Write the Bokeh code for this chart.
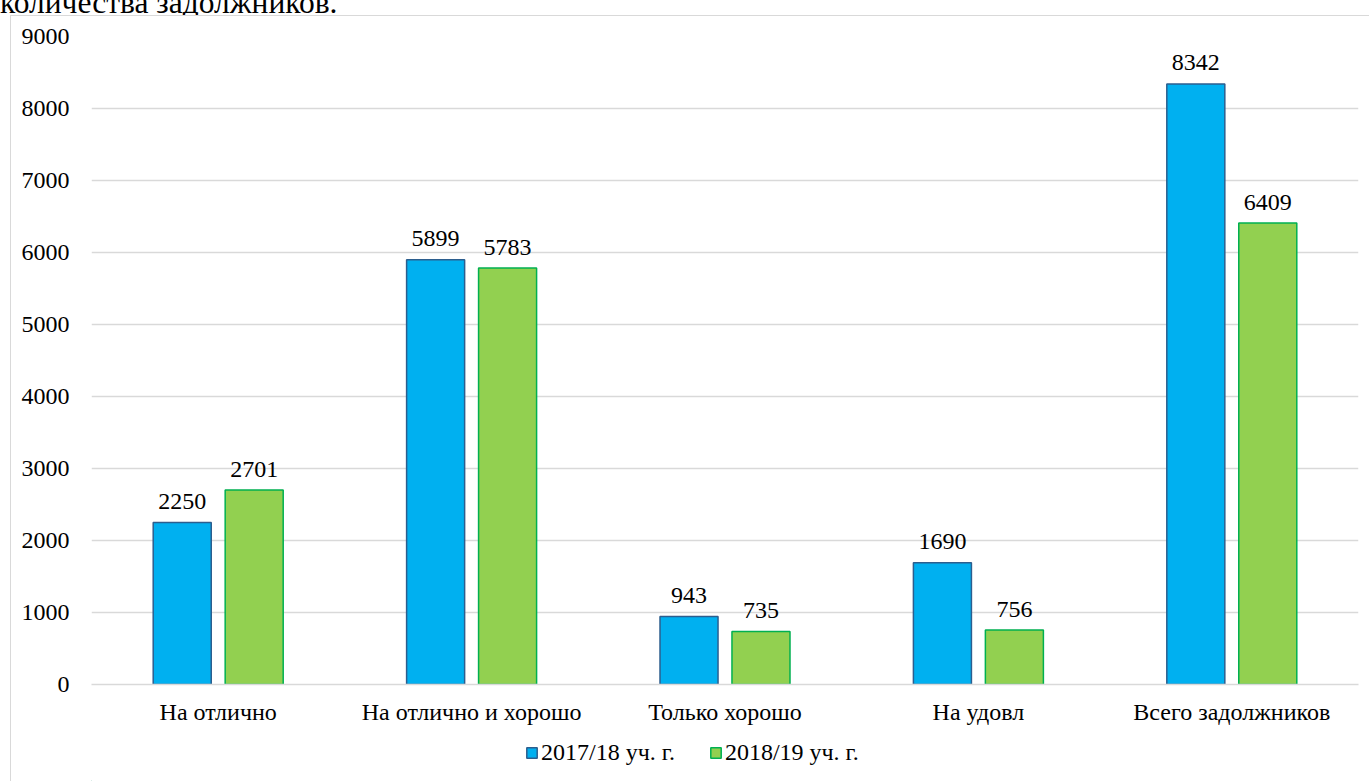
from bokeh.plotting import figure
from bokeh.layouts import column
from bokeh.models import (FactorRange, ColumnDataSource, Legend, LegendItem,
                          FixedTicker, Div)
from bokeh.transform import dodge
from bokeh.core.properties import value
from bokeh.embed import file_html
from bokeh.resources import INLINE

categories = ["На отлично", "На отлично и хорошо", "Только хорошо",
              "На удовл", "Всего задолжников"]
values_2017 = [2250, 5899, 943, 1690, 8342]
values_2018 = [2701, 5783, 735, 756, 6409]
series_names = ["2017/18 уч. г.", "2018/19 уч. г."]
y_ticks = [0, 1000, 2000, 3000, 4000, 5000, 6000, 7000, 8000, 9000]
caption = "количества задолжников."

FONT = "Liberation Serif"
FS = "24px"
BLUE, BLUE_EDGE = "#00b0f0", "#2c5e8e"
GREEN, GREEN_EDGE = "#92d050", "#00b050"
GRID = "#d9d9d9"

src = ColumnDataSource(dict(
    cat=categories,
    v17=values_2017,
    v18=values_2018,
    t17=[str(v) for v in values_2017],
    t18=[str(v) for v in values_2018],
))

# tail of the preceding sentence, clipped by the page top
head = Div(text=f'<div style="margin-top:-13px; margin-left:0px; white-space:nowrap; '
                f'font-family:\'{FONT}\'; font-size:31.5px; line-height:31px; color:#000;">'
                f'{caption}</div>',
           width=1369, height=15, styles={"overflow": "hidden"}, margin=0)

PW = 1358
p = figure(width=PW, height=718, x_range=FactorRange(*categories),
           y_range=(0, 9000), output_backend="svg", toolbar_location=None,
           min_border_left=80, min_border_right=11, min_border_top=20,
           min_border_bottom=50)
p.margin = 0
p.outline_line_color = None
p.background_fill_color = "white"
p.border_fill_color = "white"

off, bw = 0.142, 0.229
r17 = p.vbar(x=dodge("cat", -off, range=p.x_range), top="v17", width=bw,
             source=src, fill_color=BLUE, line_color=BLUE_EDGE, line_width=1.5)
r18 = p.vbar(x=dodge("cat", off, range=p.x_range), top="v18", width=bw,
             source=src, fill_color=GREEN, line_color=GREEN_EDGE, line_width=1.5)

for col, txt, dx in (("v17", "t17", -off), ("v18", "t18", off)):
    p.text(x=dodge("cat", dx, range=p.x_range), y=col, text=txt, source=src,
           text_font=value(FONT), text_font_size=FS, text_color="#000000",
           text_align="center", text_baseline="alphabetic", y_offset=-21)

# axes
p.yaxis.ticker = FixedTicker(ticks=y_ticks)
p.yaxis.axis_line_color = None
p.yaxis.major_tick_line_color = None
p.yaxis.minor_tick_line_color = None
p.yaxis.major_label_standoff = 16
p.yaxis.major_label_text_font = FONT
p.yaxis.major_label_text_font_size = FS
p.yaxis.major_label_text_color = "#000000"

p.xaxis.axis_line_color = GRID
p.xaxis.axis_line_width = 1.5
p.xaxis.major_tick_line_color = None
p.xaxis.minor_tick_line_color = None
p.xaxis.major_label_standoff = 8
p.xaxis.major_label_text_font = FONT
p.xaxis.major_label_text_font_size = FS
p.xaxis.major_label_text_color = "#000000"

p.xgrid.grid_line_color = None
p.ygrid.grid_line_color = GRID
p.ygrid.grid_line_width = 1.5

# legend strip under the chart; its key glyphs sit outside the strip's
# visible range so only the swatches in the legend show
lf = figure(width=PW, height=47, x_range=(0, 1), y_range=(0, 1),
            output_backend="svg", toolbar_location=None, min_border=0)
lf.margin = 0
lf.axis.visible = False
lf.grid.visible = False
lf.outline_line_color = None
lf.border_fill_color = "white"
key_src = ColumnDataSource(dict(x=[-5.0], top=[-5.0]))
k17 = lf.vbar(x="x", top="top", width=0.1, source=key_src, fill_color=BLUE,
              line_color=BLUE_EDGE, line_width=1.5)
k18 = lf.vbar(x="x", top="top", width=0.1, source=key_src, fill_color=GREEN,
              line_color=GREEN_EDGE, line_width=1.5)
legend = Legend(items=[LegendItem(label=series_names[0], renderers=[k17]),
                       LegendItem(label=series_names[1], renderers=[k18])],
                orientation="horizontal", location=(434, 15),
                label_text_font=FONT, label_text_font_size=FS,
                label_text_color="#000000", glyph_width=13, glyph_height=13,
                label_standoff=3, spacing=34, padding=0, margin=0,
                border_line_color=None, background_fill_alpha=0,
                label_height=20)
lf.add_layout(legend, "center")

# chart box: 10px from the left, 15px from the top, running past the page
box = column(p, lf, spacing=0, margin=(0, 0, 0, 10),
             styles={"border-left": f"1.5px solid {GRID}",
                     "border-top": f"1.5px solid {GRID}"})

layout = column(head, box, spacing=0, margin=0)
open("out.html", "w").write(file_html(layout, INLINE))
